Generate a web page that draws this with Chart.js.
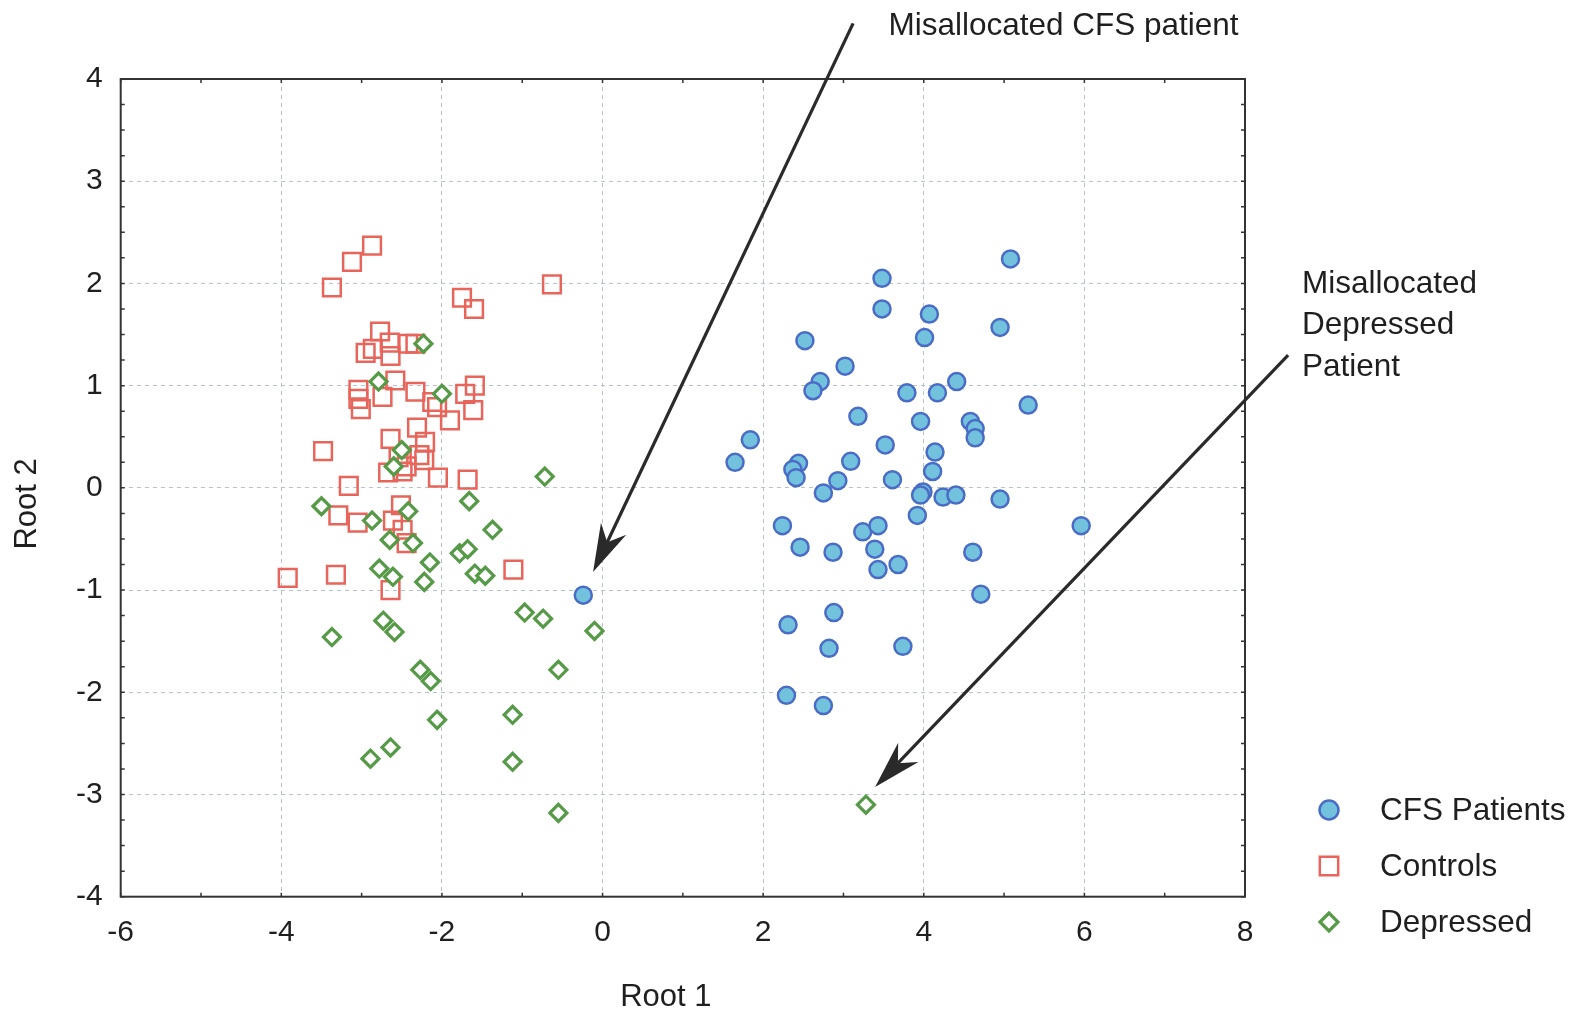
<!DOCTYPE html>
<html>
<head>
<meta charset="utf-8">
<script src="https://cdn.jsdelivr.net/npm/chart.js@4.4.0/dist/chart.umd.min.js"></script>
<style>
html,body{margin:0;padding:0;background:#ffffff;}
#wrap{width:1582px;height:1013px;position:relative;}
</style>
</head>
<body>
<div id="wrap"><canvas id="c" width="1582" height="1013"></canvas></div>
<script>
// ---------------- data ----------------
const seriesNames = ['CFS Patients', 'Controls', 'Depressed'];

const cfsX = [5.08, 3.48, 3.48, 4.07, 4.95, 4.01, 2.52, 3.02, 2.71, 2.62, 3.79, 4.17, 4.41, 5.30, 3.18, 3.96, 4.58, 4.64, 4.64, 1.84,
              3.52, 4.14, 1.65, 3.09, 2.44, 2.37, 2.41, 4.11, 3.61, 2.93, 2.75, 3.99, 3.96, 4.24, 4.40, 4.95, 3.92, 2.24, 3.24, 3.43,
              5.96, 2.46, 2.87, 3.39, 4.61, 3.43, 3.68, 4.71, 2.88, 2.31, 2.82, 3.74, 2.29, 2.75, -0.24];
const cfsY = [2.24, 2.05, 1.75, 1.70, 1.57, 1.47, 1.44, 1.19, 1.04, 0.95, 0.93, 0.93, 1.04, 0.81, 0.70, 0.65, 0.65, 0.58, 0.49, 0.47,
              0.42, 0.35, 0.25, 0.26, 0.24, 0.18, 0.10, 0.16, 0.08, 0.07, -0.05, -0.04, -0.07, -0.09, -0.07, -0.11, -0.27, -0.37, -0.43, -0.37,
              -0.37, -0.58, -0.63, -0.60, -0.63, -0.80, -0.75, -1.04, -1.22, -1.34, -1.57, -1.55, -2.03, -2.13, -1.05];

const controlsX = [-2.87, -3.12, -3.37, -0.63, -1.75, -1.60, -2.77, -2.95, -2.86, -2.65, -2.64, -2.42, -2.33, -3.04, -3.04, -3.01,
                   -2.74, -2.58, -2.33, -2.06, -1.90, -1.71, -1.59, -1.61, -2.12, -2.31, -2.64, -2.21, -3.48, -2.54, -2.28, -2.22,
                   -2.44, -2.67, -2.49, -2.05, -1.68, -3.16, -3.29, -3.05, -2.51, -2.61, -2.49, -2.44, -3.92, -3.32, -2.64, -1.11];
const controlsY = [2.37, 2.21, 1.96, 1.99, 1.86, 1.75, 1.53, 1.32, 1.36, 1.42, 1.29, 1.41, 1.41, 0.96, 0.87, 0.77,
                   0.89, 1.05, 0.94, 0.79, 0.66, 0.92, 1.00, 0.76, 0.84, 0.59, 0.48, 0.45, 0.36, 0.30, 0.32, 0.27,
                   0.21, 0.15, 0.16, 0.10, 0.08, 0.02, -0.27, -0.34, -0.17, -0.32, -0.41, -0.54, -0.88, -0.85, -1.00, -0.80];

const depressedX = [-2.23, -2.79, -2.00, -2.50, -2.60, -0.72, -3.50, -2.87, -2.42, -1.66, -1.37, -2.65, -2.36, -2.15, -1.78, -1.68,
                    -2.78, -2.61, -2.22, -1.59, -1.46, -3.37, -2.73, -2.59, -0.97, -0.74, -0.10, -0.55, -2.27, -2.14, -2.06, -1.12,
                    -1.12, -2.64, -2.89, -0.55, 3.28];
const depressedY = [1.41, 1.04, 0.92, 0.37, 0.21, 0.11, -0.18, -0.32, -0.23, -0.13, -0.41, -0.51, -0.54, -0.73, -0.64, -0.60,
                    -0.79, -0.87, -0.92, -0.84, -0.86, -1.46, -1.30, -1.41, -1.22, -1.28, -1.40, -1.78, -1.78, -1.89, -2.27, -2.22,
                    -2.68, -2.54, -2.65, -3.18, -3.10];

const xTickLabels = ['-6', '-4', '-2', '0', '2', '4', '6', '8'];
const yTickLabels = ['-4', '-3', '-2', '-1', '0', '1', '2', '3', '4'];
const xAxisTitle = 'Root 1';
const yAxisTitle = 'Root 2';

// ---------------- annotations (in data coordinates) ----------------
const annotationTexts = [
  { lines: ['Misallocated CFS patient'], x: 3.56, y: 4.427 },
  { lines: ['Misallocated', 'Depressed', 'Patient'], x: 8.71, y: 1.905 }
];
const annotationArrows = [
  { from: [3.12, 4.544], to: [-0.118, -0.824] },
  { from: [8.537, 1.298], to: [3.394, -2.927] }
];

// ---------------- build ----------------
const FONT = "'Liberation Sans', Arial, Helvetica, sans-serif";
const TEXT = '#1f1f1f';
const toPts = (xs, ys) => xs.map((v, i) => ({ x: v, y: ys[i] }));

const styles = [
  { pointStyle: 'circle', pointRadius: 8.5, backgroundColor: '#72c2dd', borderColor: '#4a6cc6', borderWidth: 2.5, legendRadius: 9.5 },
  { pointStyle: 'rect', pointRadius: 12.5, backgroundColor: 'rgba(255,255,255,0)', borderColor: '#e8655b', borderWidth: 2.5, legendRadius: 13 },
  { pointStyle: 'rectRot', pointRadius: 8.5, backgroundColor: '#ffffff', borderColor: '#569a48', borderWidth: 3.2, legendRadius: 9 }
];
const seriesData = [toPts(cfsX, cfsY), toPts(controlsX, controlsY), toPts(depressedX, depressedY)];
const drawOrder = [2, 1, 0];

const datasets = seriesNames.map((name, i) => ({
  label: name,
  data: seriesData[i],
  pointStyle: styles[i].pointStyle,
  pointRadius: styles[i].pointRadius,
  pointHoverRadius: styles[i].pointRadius,
  pointBackgroundColor: styles[i].backgroundColor,
  pointBorderColor: styles[i].borderColor,
  pointBorderWidth: styles[i].borderWidth,
  backgroundColor: styles[i].backgroundColor,
  borderColor: styles[i].borderColor,
  showLine: false,
  order: drawOrder[i],
  clip: false
}));

const framePlugin = {
  id: 'frame',
  afterDatasetsDraw(chart) {
    const { ctx, chartArea: a, scales: { x, y } } = chart;
    ctx.save();
    ctx.strokeStyle = '#333333';
    ctx.lineWidth = 2;
    ctx.strokeRect(a.left, a.top, a.right - a.left, a.bottom - a.top);
    ctx.lineWidth = 1.5;
    ctx.beginPath();
    for (let v = x.min; v <= x.max + 1e-9; v += 1) {
      const px = x.getPixelForValue(v);
      ctx.moveTo(px, a.bottom); ctx.lineTo(px, a.bottom - 4);
      ctx.moveTo(px, a.top); ctx.lineTo(px, a.top + 4);
    }
    for (let v = y.min; v <= y.max + 1e-9; v += 0.25) {
      const py = y.getPixelForValue(v);
      ctx.moveTo(a.left, py); ctx.lineTo(a.left + 4, py);
      ctx.moveTo(a.right, py); ctx.lineTo(a.right - 4, py);
    }
    ctx.stroke();
    ctx.restore();
  },
  afterDraw(chart) {
    const { ctx, chartArea: a, scales: { x, y } } = chart;
    ctx.save();
    // axis titles
    ctx.fillStyle = TEXT;
    ctx.font = '31px ' + FONT;
    ctx.textAlign = 'center';
    ctx.textBaseline = 'middle';
    ctx.fillText(xAxisTitle, (a.left + a.right) / 2 - 17, 997);
    ctx.save();
    ctx.translate(27, (a.top + a.bottom) / 2 + 16);
    ctx.rotate(-Math.PI / 2);
    ctx.fillText(yAxisTitle, 0, 0);
    ctx.restore();
    // arrows
    ctx.strokeStyle = '#2a2a2a';
    ctx.fillStyle = '#2a2a2a';
    annotationArrows.forEach(ar => {
      const sx = x.getPixelForValue(ar.from[0]), sy = y.getPixelForValue(ar.from[1]);
      const tx = x.getPixelForValue(ar.to[0]), ty = y.getPixelForValue(ar.to[1]);
      const dx = tx - sx, dy = ty - sy, len = Math.hypot(dx, dy);
      const ux = dx / len, uy = dy / len, nx = -uy, ny = ux;
      const L = 48, W = 14, N = 15;
      ctx.lineWidth = 3.2;
      ctx.beginPath();
      ctx.moveTo(sx, sy);
      ctx.lineTo(tx - (L - N) * ux, ty - (L - N) * uy);
      ctx.stroke();
      ctx.beginPath();
      ctx.moveTo(tx, ty);
      ctx.lineTo(tx - L * ux + W * nx, ty - L * uy + W * ny);
      ctx.lineTo(tx - (L - N) * ux, ty - (L - N) * uy);
      ctx.lineTo(tx - L * ux - W * nx, ty - L * uy - W * ny);
      ctx.closePath();
      ctx.fill();
    });
    // annotation texts
    ctx.fillStyle = TEXT;
    ctx.font = '31.5px ' + FONT;
    ctx.textAlign = 'left';
    ctx.textBaseline = 'alphabetic';
    annotationTexts.forEach(t => {
      const px = x.getPixelForValue(t.x), py = y.getPixelForValue(t.y);
      t.lines.forEach((line, i) => ctx.fillText(line, px, py + i * 41.3));
    });
    // legend
    const lx = a.right + 84;
    seriesNames.forEach((name, i) => {
      const ly = 810 + i * 56;
      const st = styles[i];
      ctx.save();
      ctx.fillStyle = st.backgroundColor;
      ctx.strokeStyle = st.borderColor;
      ctx.lineWidth = st.borderWidth;
      Chart.helpers.drawPoint(ctx, { pointStyle: st.pointStyle, radius: st.legendRadius, rotation: 0, borderWidth: st.borderWidth }, lx, ly);
      ctx.restore();
      ctx.fillStyle = TEXT;
      ctx.font = '31.5px ' + FONT;
      ctx.textAlign = 'left';
      ctx.textBaseline = 'middle';
      ctx.fillText(name, lx + 51, ly + 1);
    });
    ctx.restore();
  }
};

const gridColor = '#b7c2cc';

new Chart(document.getElementById('c'), {
  type: 'scatter',
  data: { datasets },
  plugins: [framePlugin],
  options: {
    responsive: false,
    animation: false,
    devicePixelRatio: 1,
    layout: { padding: { left: 0, right: 337, top: 79, bottom: 0 } },
    plugins: { legend: { display: false }, tooltip: { enabled: false } },
    scales: {
      x: {
        type: 'linear', min: -6, max: 8,
        afterBuildTicks(s) { s.ticks = xTickLabels.map(v => ({ value: Number(v) })); },
        ticks: { font: { family: FONT, size: 30 }, color: TEXT, padding: 18, maxRotation: 0, autoSkip: false,
                 callback: (v) => xTickLabels.find(t => Number(t) === v) },
        grid: { color: gridColor, lineWidth: 1, drawTicks: false },
        border: { display: false, dash: [4, 4] },
        title: { display: false },
        afterFit(s) { s.height = 116.3; }
      },
      y: {
        type: 'linear', min: -4, max: 4,
        afterBuildTicks(s) { s.ticks = yTickLabels.map(v => ({ value: Number(v) })); },
        ticks: { font: { family: FONT, size: 30 }, color: TEXT, padding: 18, autoSkip: false,
                 callback: (v) => yTickLabels.find(t => Number(t) === v) },
        grid: { color: gridColor, lineWidth: 1, drawTicks: false },
        border: { display: false, dash: [4, 4] },
        title: { display: false },
        afterFit(s) { s.width = 120.7; }
      }
    }
  }
});
</script>
</body>
</html>
